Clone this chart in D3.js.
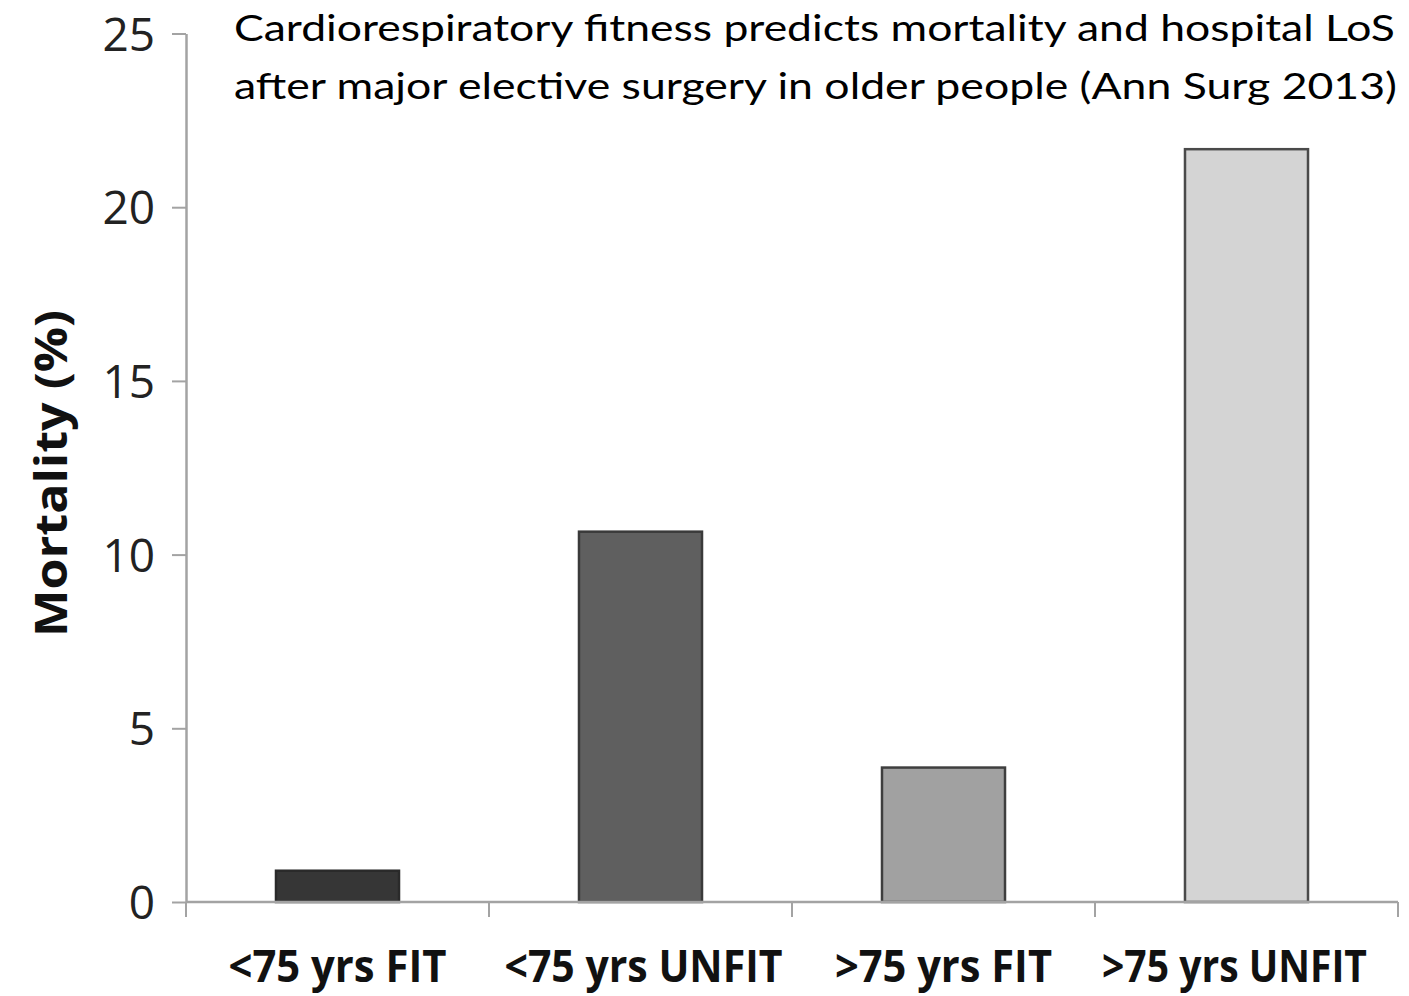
<!DOCTYPE html>
<html>
<head>
<meta charset="utf-8">
<script src="https://cdn.jsdelivr.net/npm/d3@7"></script>
<style>
  html, body { margin: 0; padding: 0; background: #fff; }
  svg { display: block; }
</style>
</head>
<body>
<svg id="chart" width="1409" height="996"></svg>
<script>
// ---- data ----
const categories = ["<75 yrs FIT", "<75 yrs UNFIT", ">75 yrs FIT", ">75 yrs UNFIT"];
const mortality = [0.9, 10.66, 3.87, 21.67];
const yTicks = [0, 5, 10, 15, 20, 25];
const titleLines = [
  "Cardiorespiratory fitness predicts mortality and hospital LoS",
  "after major elective surgery in older people (Ann Surg 2013)"
];
const yLabel = "Mortality (%)";

// ---- styles / layout ----
const fills = ["#363636", "#5f5f5f", "#a1a1a1", "#d4d4d4"];
const strokes = ["#2a2a2a", "#3a3a3a", "#3e3e3e", "#4a4a4a"];
const axisColor = "#a3a3a3";
const plotLeft = 186, plotRight = 1398, plotTop = 33.5, plotBottom = 902;
const pad = 0.594;

const svg = d3.select("#chart");

const x = d3.scaleBand().domain(categories).range([plotLeft, plotRight])
  .paddingInner(pad).paddingOuter(pad / 2);
const y = d3.scaleLinear().domain([0, 25]).range([plotBottom, plotTop]);

// bars
svg.append("g").selectAll("rect").data(categories).join("rect")
  .attr("x", d => x(d))
  .attr("width", x.bandwidth())
  .attr("y", (d, i) => y(mortality[i]))
  .attr("height", (d, i) => y(0) - y(mortality[i]))
  .attr("fill", (d, i) => fills[i])
  .attr("stroke", (d, i) => strokes[i])
  .attr("stroke-width", 2.5);

// y axis
const yAxis = svg.append("g")
  .attr("transform", `translate(${plotLeft},0)`)
  .call(d3.axisLeft(y).tickValues(yTicks).tickSize(14).tickSizeOuter(0).tickPadding(17));
yAxis.select(".domain").attr("stroke", axisColor).attr("stroke-width", 2.5);
yAxis.selectAll(".tick line").attr("stroke", axisColor).attr("stroke-width", 2);
yAxis.selectAll(".tick text")
  .attr("font-family", "'Open Sans', sans-serif")
  .attr("font-size", 46)
  .attr("fill", "#222")
  .attr("dy", "0.36em");

// x axis line with category boundary ticks
const xg = svg.append("g");
xg.append("line")
  .attr("x1", plotLeft).attr("x2", plotRight)
  .attr("y1", y(0)).attr("y2", y(0))
  .attr("stroke", axisColor).attr("stroke-width", 2.5);
const step = x.step();
const boundaries = categories.map(c => x(c) - (step - x.bandwidth()) / 2).concat([plotRight]);
xg.selectAll("line.b").data(boundaries).join("line")
  .attr("class", "b")
  .attr("x1", d => d).attr("x2", d => d)
  .attr("y1", y(0)).attr("y2", y(0) + 15)
  .attr("stroke", axisColor).attr("stroke-width", 2);

// x category labels (bold)
const labelShift = [0, 3, 0, -12];
const labelWidth = [218, 278, 217, 265];
svg.append("g").selectAll("text").data(categories).join("text")
  .attr("x", (d, i) => x(d) + x.bandwidth() / 2 + labelShift[i])
  .attr("y", 982)
  .attr("text-anchor", "middle")
  .attr("font-family", "'Open Sans', sans-serif")
  .attr("font-weight", 700)
  .attr("font-size", 44)
  .attr("fill", "#111")
  .attr("textLength", (d, i) => labelWidth[i])
  .attr("lengthAdjust", "spacingAndGlyphs")
  .text(d => d);

// y axis label
svg.append("text")
  .attr("transform", `translate(67,${(310 + 637) / 2}) rotate(-90)`)
  .attr("text-anchor", "middle")
  .attr("font-family", "'Open Sans', sans-serif")
  .attr("font-weight", 700)
  .attr("font-size", 44)
  .attr("fill", "#111")
  .attr("textLength", 327)
  .attr("lengthAdjust", "spacingAndGlyphs")
  .text(yLabel);

// title
const titleY = [41, 99];
const titleW = [1161, 1163];
svg.append("g").selectAll("text").data(titleLines).join("text")
  .attr("x", 234)
  .attr("y", (d, i) => titleY[i])
  .attr("font-family", "Lato, sans-serif")
  .attr("font-size", 37)
  .attr("fill", "#000")
  .attr("textLength", (d, i) => titleW[i])
  .attr("lengthAdjust", "spacingAndGlyphs")
  .text(d => d);
</script>
</body>
</html>
